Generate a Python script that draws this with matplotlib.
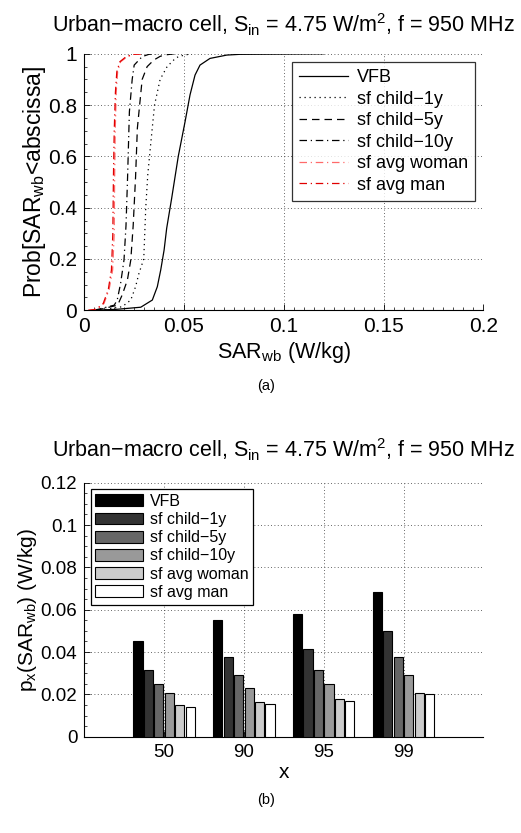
import matplotlib
matplotlib.use("Agg")
import matplotlib.pyplot as plt
import numpy as np
from matplotlib.ticker import AutoMinorLocator

plt.rcParams["font.family"] = ["Liberation Sans", "DejaVu Sans"]
plt.rcParams["mathtext.fontset"] = "custom"
plt.rcParams["mathtext.rm"] = "Liberation Sans"
plt.rcParams["mathtext.it"] = "Liberation Sans:italic"

TITLE = "Urban\u2212macro cell, S$_{\\mathrm{in}}$ = 4.75 W/m$^{\\mathrm{2}}$, f = 950 MHz"
SERIES = ["VFB", "sf child\u22121y", "sf child\u22125y", "sf child\u221210y", "sf avg woman", "sf avg man"]

# CDF curves: SAR_wb (W/kg) vs probability
vfb_x = [0.005, 0.0165, 0.0283, 0.0341, 0.0366, 0.0383, 0.040, 0.0413, 0.0438, 0.0471,
         0.0505, 0.053, 0.0555, 0.058, 0.063, 0.0714, 0.078, 0.12]
vfb_p = [0.0, 0.004, 0.012, 0.04, 0.092, 0.157, 0.235, 0.32, 0.437, 0.6,
         0.735, 0.84, 0.917, 0.956, 0.982, 0.995, 0.998, 1.0]

child1_x = [0.008, 0.019, 0.0233, 0.0257, 0.0274, 0.0298, 0.0308, 0.0318, 0.0333, 0.0352,
            0.038, 0.0415, 0.046, 0.05, 0.054]
child1_p = [0.0, 0.014, 0.04, 0.092, 0.144, 0.2, 0.4, 0.527, 0.65, 0.8,
            0.9, 0.95, 0.985, 0.995, 1.0]

child5_x = [0.006, 0.0167, 0.019, 0.0216, 0.0233, 0.0245, 0.0257, 0.0266, 0.029, 0.0315,
            0.0349, 0.038, 0.04, 0.045]
child5_p = [0.0, 0.02, 0.06, 0.118, 0.196, 0.33, 0.52, 0.71, 0.9, 0.95,
            0.976, 0.99, 0.995, 1.0]

child10_x = [0.005, 0.015, 0.0165, 0.0182, 0.0199, 0.0209, 0.0217, 0.0226, 0.024, 0.025,
             0.029, 0.0324, 0.036]
child10_p = [0.0, 0.02, 0.04, 0.105, 0.196, 0.33, 0.52, 0.774, 0.9, 0.956,
             0.989, 0.998, 1.0]

woman_x = [0.002, 0.0065, 0.0099, 0.0124, 0.0142, 0.015, 0.0152, 0.0155, 0.016, 0.0167,
           0.0182, 0.0216, 0.0249, 0.03]
woman_p = [0.0, 0.004, 0.027, 0.08, 0.157, 0.3, 0.52, 0.7, 0.85, 0.93,
           0.969, 0.989, 0.998, 1.0]

man_x = [0.002, 0.006, 0.0095, 0.012, 0.0136, 0.0143, 0.0146, 0.015, 0.0156, 0.0163,
         0.0178, 0.021, 0.0245, 0.03]
man_p = [0.0, 0.004, 0.027, 0.08, 0.157, 0.3, 0.52, 0.7, 0.85, 0.93,
         0.969, 0.989, 0.998, 1.0]

# percentiles, panel (b)
percentiles = ["50", "90", "95", "99"]
p_vfb = [0.045, 0.055, 0.058, 0.0685]
p_child1 = [0.0315, 0.0377, 0.0413, 0.050]
p_child5 = [0.0251, 0.0292, 0.0316, 0.0377]
p_child10 = [0.0206, 0.0231, 0.025, 0.0292]
p_woman = [0.015, 0.0164, 0.0176, 0.0207]
p_man = [0.0142, 0.0156, 0.0167, 0.020]

W, H = 521, 833


def style_axes(ax, labelsize):
    ax.spines["top"].set_visible(False)
    ax.spines["right"].set_visible(False)
    ax.tick_params(which="both", direction="in", labelsize=labelsize, pad=5)
    ax.tick_params(which="major", length=4, width=0.6)
    ax.tick_params(which="minor", length=2, width=0.5)
    ax.grid(True, which="major", linestyle=(0, (1, 3)), color="#333333", linewidth=0.6)
    for s in ("left", "bottom"):
        ax.spines[s].set_linewidth(0.8)


def plot_cdf(ax):
    curves = [
        (vfb_x, vfb_p, "black", "-"),
        (child1_x, child1_p, "black", (0, (1, 3))),
        (child5_x, child5_p, "black", (0, (6, 4))),
        (child10_x, child10_p, "black", (0, (6, 3, 1, 3))),
        (woman_x, woman_p, "#ff6a6a", (0, (6, 3, 1, 3))),
        (man_x, man_p, "#e00000", (0, (6, 3, 1, 3))),
    ]
    for (x, p, c, ls), name in zip(curves, SERIES):
        ax.plot(x, p, color=c, linestyle=ls, linewidth=0.9, label=name)

    ax.set_xlim(0, 0.2)
    ax.set_ylim(0, 1)
    ax.set_xticks([0, 0.05, 0.1, 0.15, 0.2])
    ax.set_xticklabels(["0", "0.05", "0.1", "0.15", "0.2"])
    ax.set_yticks([0, 0.2, 0.4, 0.6, 0.8, 1])
    ax.set_yticklabels(["0", "0.2", "0.4", "0.6", "0.8", "1"])
    ax.xaxis.set_minor_locator(AutoMinorLocator(10))
    ax.yaxis.set_minor_locator(AutoMinorLocator(4))
    style_axes(ax, 15)
    ax.set_title(TITLE, fontsize=15.5, pad=15.5)
    ax.set_xlabel("SAR$_{\\mathrm{wb}}$ (W/kg)", fontsize=15.5, labelpad=3)
    ax.set_ylabel("Prob[SAR$_{\\mathrm{wb}}$<abscissa]", fontsize=16.5, labelpad=0)
    leg = ax.legend(loc="upper right", fontsize=13, frameon=True, fancybox=False,
                    edgecolor="black", handlelength=2.7, borderaxespad=0.45,
                    labelspacing=0.25, handletextpad=0.5, borderpad=0.4)
    leg.get_frame().set_linewidth(0.9)


def plot_bars(ax):
    values = [p_vfb, p_child1, p_child5, p_child10, p_woman, p_man]
    colors = ["#000000", "#333333", "#666666", "#999999", "#cccccc", "#ffffff"]
    pos = np.arange(1, len(percentiles) + 1)
    step = 0.131
    for i, (vals, c, name) in enumerate(zip(values, colors, SERIES)):
        ax.bar(pos + (i - 2.5) * step, vals, width=0.115, color=c,
               edgecolor="black", linewidth=0.8, label=name, zorder=3)

    ax.set_xlim(0, 5)
    ax.set_ylim(0, 0.12)
    ax.set_xticks(pos)
    ax.set_xticklabels(percentiles)
    ax.set_yticks([0, 0.02, 0.04, 0.06, 0.08, 0.1, 0.12])
    ax.set_yticklabels(["0", "0.02", "0.04", "0.06", "0.08", "0.1", "0.12"])
    ax.yaxis.set_minor_locator(AutoMinorLocator(4))
    style_axes(ax, 13.5)
    ax.set_title(TITLE, fontsize=15.5, pad=18)
    ax.set_xlabel("x", fontsize=15, labelpad=2)
    ax.set_ylabel("p$_{\\mathrm{x}}$(SAR$_{\\mathrm{wb}}$) (W/kg)", fontsize=15, labelpad=1)
    leg = ax.legend(loc="upper left", fontsize=11.5, frameon=True, fancybox=False,
                    edgecolor="black", handlelength=3.0, handleheight=0.75,
                    borderaxespad=0.4, labelspacing=0.2, handletextpad=0.4,
                    borderpad=0.3, framealpha=1)
    leg.get_frame().set_linewidth(0.9)


fig = plt.figure(figsize=(W / 100, H / 100), dpi=100)
ax_a = fig.add_axes([84.3 / W, 1 - 310.3 / H, 399 / W, 256.5 / H])
ax_b = fig.add_axes([84.3 / W, 1 - 736.7 / H, 399 / W, 254 / H])

plot_cdf(ax_a)
plot_bars(ax_b)

fig.text(266 / W, 1 - 386 / H, "(a)", ha="center", va="center", fontsize=10.5)
fig.text(266 / W, 1 - 800 / H, "(b)", ha="center", va="center", fontsize=10.5)

fig.savefig("out.png", dpi=100)
plt.close(fig)
